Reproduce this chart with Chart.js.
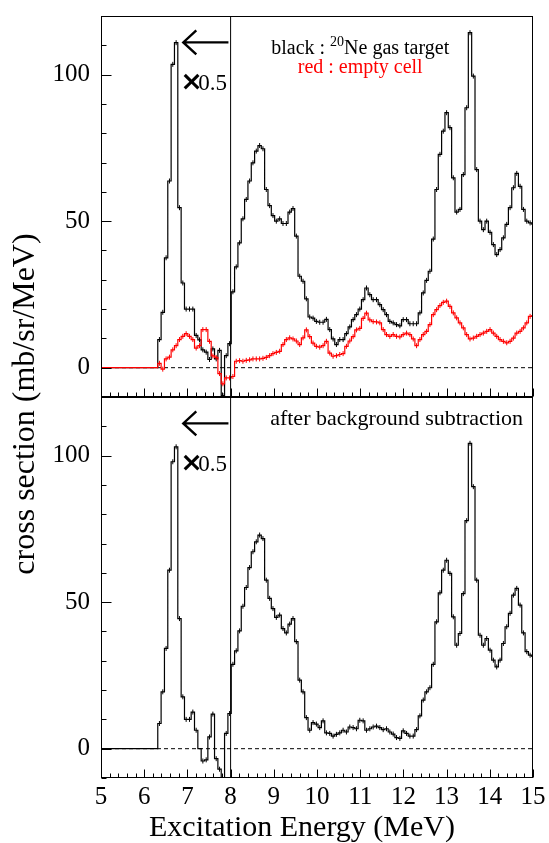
<!DOCTYPE html>
<html lang="en">
<head>
  <meta charset="UTF-8" />
  <title>20Ne cross section</title>
  <script src="https://cdn.jsdelivr.net/npm/chart.js"></script>
  <style>
    html, body { margin: 0; padding: 0; background: #fff; }
    #wrap { position: relative; width: 549px; height: 843px; }
    #wrap canvas { position: absolute; left: 0; top: 0; }
  </style>
</head>
<body>
<div id="wrap">
  <canvas id="topChart" width="549" height="843"></canvas>
  <canvas id="bottomChart" width="549" height="843"></canvas>
</div>

<script>
  // histogram bins: fixed width in MeV, first bin starts at 5 MeV
  const eStart = 5.0;
  const binWidth = 0.0773;

  // black : 20Ne gas target (below 8 MeV already scaled by 0.5)
  const neTarget = [
    0, 0, 0, 0, 0, 0, 0, 0, 0, 0, 0, 0, 0, 0, 0, 0, 0,
    9.6, 18.9, 37.5, 63.7, 103.5, 110.9, 54.6, 28.9, 20.0, 20.0, 20.0,
    11.0, 9.5, 6.1, 5.3, 2.8, 6.4, 3.0, 5.9, -9.5, 4.1, 8.2,
    25.9, 34.4, 42.6, 50.8, 57.4, 63.7, 69.9, 73.9, 75.8, 74.7,
    60.8, 55.3, 51.9, 50.0, 50.8, 49.2, 49.2, 53.1, 54.3, 44.9,
    31.2, 29.5, 23.5, 17.3, 16.9, 15.8, 15.5, 15.5, 16.5, 13.0,
    9.8, 7.9, 9.6, 9.6, 11.6, 13.9, 16.4, 18.1, 20.0, 23.2,
    27.2, 24.9, 23.2, 23.2, 21.5, 19.8, 18.1, 15.8, 15.3, 14.7,
    14.3, 16.4, 16.4, 15.0, 15.0, 15.0, 18.7, 25.5, 29.8, 32.9,
    43.9, 60.8, 72.8, 80.7, 87.0, 81.9, 64.8, 53.1, 54.0, 65.9,
    88.7, 114.3, 99.5, 67.6, 50.0, 47.1, 50.0, 46.2, 42.0, 38.6,
    40.3, 44.3, 48.9, 54.6, 61.4, 66.3, 61.9, 54.0, 50.0, 49.4,
    49.0
  ];

  // red : empty cell
  const emptyCell = [
    0, 0, 0, 0, 0, 0, 0, 0, 0, 0, 0, 0, 0, 0, 0, 0, 0,
    1.5, -0.5, 3.0, 3.6, 6.1, 7.5, 9.6, 10.7, 11.6, 10.7, 9.6,
    6.7, 7.5, 13.0, 13.0, 9.0, 4.0, 3.5, -2.0, -5.5, -3.5, -3.5,
    -3.0, 2.2, 2.4, 2.2, 2.5, 2.7, 3.0, 3.0, 3.0, 3.2,
    3.5, 4.1, 4.8, 5.2, 5.6, 7.9, 9.6, 10.2, 9.8, 9.1,
    7.9, 10.2, 12.9, 10.6, 8.4, 7.3, 7.0, 7.5, 9.0, 5.0,
    3.9, 4.1, 4.5, 4.8, 7.3, 9.1, 10.6, 12.9, 13.4, 16.8,
    18.6, 16.3, 15.7, 15.6, 15.3, 13.0, 11.3, 10.7, 11.3, 10.7,
    10.5, 11.3, 11.8, 11.3, 9.8, 7.5, 9.6, 11.3, 12.4, 14.7,
    18.1, 19.8, 21.2, 22.3, 22.7, 20.9, 18.7, 17.0, 15.3, 13.6,
    11.3, 9.8, 10.1, 10.7, 11.3, 11.8, 12.4, 13.0, 11.8, 10.7,
    9.6, 9.0, 8.5, 9.0, 10.1, 11.8, 12.4, 13.6, 15.3, 17.5,
    17.8
  ];

  // after background subtraction
  const subtracted = [
    0, 0, 0, 0, 0, 0, 0, 0, 0, 0, 0, 0, 0, 0, 0, 0, 0,
    8.6, 19.4, 34.2, 60.9, 97.9, 103.0, 44.4, 17.7, 10.0, 10.0, 12.5,
    6.3, 0.0, -4.2, -3.8, 4.0, 11.8, -3.4, -7.0, -15.0, 5.2, 12.0,
    28.8, 33.4, 40.2, 48.6, 55.0, 61.8, 67.2, 70.6, 72.9, 71.7,
    57.5, 51.3, 47.8, 44.8, 45.6, 41.0, 39.5, 42.5, 44.4, 36.5,
    23.4, 19.4, 10.6, 6.3, 8.9, 8.4, 7.2, 9.5, 5.4, 5.2,
    4.3, 4.9, 5.4, 6.3, 5.7, 7.4, 7.2, 6.8, 9.7, 9.5,
    6.3, 6.8, 7.4, 7.7, 7.2, 6.5, 6.8, 5.7, 5.0, 3.8,
    3.5, 6.1, 5.2, 4.3, 4.3, 6.5, 11.2, 16.6, 19.4, 20.8,
    28.8, 43.3, 53.2, 60.9, 64.3, 59.8, 45.0, 35.3, 39.3, 52.9,
    77.8, 104.2, 89.4, 57.5, 38.7, 35.3, 37.6, 33.6, 30.2, 27.9,
    30.2, 35.9, 41.6, 46.2, 52.4, 54.7, 49.0, 39.5, 33.1, 31.9,
    31.5
  ];

  const xTickLabels = [5, 6, 7, 8, 9, 10, 11, 12, 13, 14, 15];
  const yTickLabels = [0, 50, 100];

  const xMin = 5, xMax = 15, xMinorStep = 0.2;
  const yMin = -10, yMax = 120, yMinorStep = 10, yMajorStep = 50;
  const splitAt = 8;                 // boundary of the x0.5 region
  const arrowFrom = 6.905, arrowTo = 7.95, arrowLevel = 111;
  const factorLevel = 94.6;

  const SERIF = '"Liberation Serif", "Times New Roman", Times, serif';

  function histPoints(values) {
    const pts = values.map((v, i) => ({ x: eStart + i * binWidth, y: v }));
    pts.push({ x: eStart + values.length * binWidth, y: values[values.length - 1] });
    return pts;
  }

  // small error-bar ticks at the bin centres
  function errMarks(values) {
    return values
      .map((v, i) => ({ x: eStart + (i + 0.5) * binWidth, y: v }))
      .filter(p => p.y !== 0);
  }

  const panelDecor = {
    id: 'panelDecor',
    afterDatasetsDraw(chart, args, o) {
      const { ctx, chartArea: a } = chart;
      const xs = chart.scales.x, ys = chart.scales.y;
      ctx.save();
      ctx.strokeStyle = '#000';
      ctx.fillStyle = '#000';
      ctx.lineWidth = 1;

      const L = Math.round(a.left) + 0.5, R = Math.round(a.right) - 0.5;
      const T = Math.round(a.top) + 0.5, B = Math.round(a.bottom) - 0.5;
      ctx.strokeRect(L, T, R - L, B - T);

      // ticks pointing inwards
      ctx.beginPath();
      for (let v = yMin; v <= yMax; v += yMinorStep) {
        const py = Math.round(ys.getPixelForValue(v)) + 0.5;
        const len = v % yMajorStep === 0 ? 10 : 5;
        ctx.moveTo(L, py);
        ctx.lineTo(L + len, py);
      }
      const nx = Math.round((xMax - xMin) / xMinorStep);
      for (let k = 0; k <= nx; k++) {
        const px = Math.round(xs.getPixelForValue(xMin + k * xMinorStep)) + 0.5;
        const len = k % 5 === 0 ? 8 : 4;
        ctx.moveTo(px, B);
        ctx.lineTo(px, B - len);
      }
      ctx.stroke();

      // arrow + "x0.5"
      const ax0 = xs.getPixelForValue(arrowFrom), ax1 = xs.getPixelForValue(arrowTo);
      const ay = ys.getPixelForValue(arrowLevel);
      ctx.lineWidth = 2.4;
      ctx.beginPath();
      ctx.moveTo(ax1, ay);
      ctx.lineTo(ax0, ay);
      ctx.moveTo(ax0 + 13, ay - 12);
      ctx.lineTo(ax0, ay);
      ctx.lineTo(ax0 + 13, ay + 12);
      ctx.stroke();

      const fy = ys.getPixelForValue(factorLevel);
      ctx.textAlign = 'left';
      ctx.textBaseline = 'alphabetic';
      ctx.font = `bold 27px "DejaVu Sans", sans-serif`;
      ctx.fillText('\u00d7', ax0 - 3, fy);
      ctx.font = `23px ${SERIF}`;
      ctx.fillText('0.5', ax0 + 15, fy);

      if (o.legend) {
        const cx = xs.getPixelForValue(o.legend.center);
        const y1 = ys.getPixelForValue(o.legend.levels[0]);
        const y2 = ys.getPixelForValue(o.legend.levels[1]);
        ctx.font = `20px ${SERIF}`;
        const w1 = ctx.measureText('black : ').width;
        const w3 = ctx.measureText('Ne gas target').width;
        ctx.font = `14px ${SERIF}`;
        const w2 = ctx.measureText('20').width;
        let x0 = cx - (w1 + w2 + w3) / 2;
        ctx.font = `20px ${SERIF}`;
        ctx.fillText('black : ', x0, y1);
        ctx.font = `14px ${SERIF}`;
        ctx.fillText('20', x0 + w1, y1 - 8);
        ctx.font = `20px ${SERIF}`;
        ctx.fillText('Ne gas target', x0 + w1 + w2, y1);
        ctx.fillStyle = '#ff0000';
        ctx.textAlign = 'center';
        ctx.fillText('red : empty cell', cx, y2);
        ctx.fillStyle = '#000';
      }

      if (o.caption) {
        ctx.font = `22px ${SERIF}`;
        ctx.textAlign = 'right';
        ctx.fillText(o.caption.text, xs.getPixelForValue(o.caption.x), ys.getPixelForValue(o.caption.level));
      }

      if (o.titles) {
        ctx.font = `30px ${SERIF}`;
        ctx.textAlign = 'center';
        ctx.textBaseline = 'alphabetic';
        ctx.fillText('Excitation Energy (MeV)', 302, 836);
        ctx.font = `32px ${SERIF}`;
        ctx.translate(34, 404);
        ctx.rotate(-Math.PI / 2);
        ctx.fillText('cross section (mb/sr/MeV)', 0, 0);
      }
      ctx.restore();
    }
  };

  function buildChart(id, isBottom, blackData, redData, decor) {
    const datasets = [
      {
        data: [{ x: splitAt, y: yMin }, { x: splitAt, y: yMax }],
        borderColor: '#000', borderWidth: 1, pointRadius: 0, order: 0
      },
      {
        data: [{ x: xMin, y: 0 }, { x: xMax, y: 0 }],
        borderColor: '#000', borderWidth: 1, borderDash: [4, 3], pointRadius: 0, order: 9
      },
      {
        data: histPoints(blackData), stepped: true,
        borderColor: '#000', borderWidth: 1.2, pointRadius: 0, order: 3
      },
      {
        data: errMarks(blackData), showLine: false,
        pointStyle: 'line', pointRotation: 90, pointRadius: 2.5,
        pointBorderColor: '#000', pointBorderWidth: 1, order: 3
      }
    ];
    if (redData) {
      datasets.push({
        data: histPoints(redData), stepped: true,
        borderColor: '#ff0000', borderWidth: 1.2, pointRadius: 0, order: 1
      });
      datasets.push({
        data: errMarks(redData), showLine: false,
        pointStyle: 'line', pointRotation: 90, pointRadius: 2.5,
        pointBorderColor: '#ff0000', pointBorderWidth: 1, order: 1
      });
    }

    return new Chart(document.getElementById(id), {
      type: 'line',
      data: { datasets },
      plugins: [panelDecor],
      options: {
        responsive: false,
        animation: false,
        devicePixelRatio: 1,
        events: [],
        layout: {
          padding: isBottom
            ? { top: 397, right: 16, bottom: 0, left: 0 }
            : { top: 16, right: 16, bottom: 446, left: 0 }
        },
        plugins: {
          legend: { display: false },
          tooltip: { enabled: false },
          panelDecor: decor
        },
        scales: {
          x: {
            type: 'linear', min: xMin, max: xMax,
            grid: { display: false, drawTicks: false },
            border: { display: false },
            afterBuildTicks: s => { s.ticks = xTickLabels.map(v => ({ value: v })); },
            ticks: {
              display: isBottom, padding: 4, color: '#000',
              maxRotation: 0, autoSkip: false,
              font: { family: SERIF, size: 25 }
            },
            afterFit: s => {
              s.height = isBottom ? 65 : 0;
              s.paddingLeft = 0;
              s.paddingRight = 0;
            }
          },
          y: {
            type: 'linear', min: yMin, max: yMax,
            grid: { display: false, drawTicks: false },
            border: { display: false },
            afterBuildTicks: s => { s.ticks = yTickLabels.map(v => ({ value: v })); },
            ticks: {
              padding: 11, color: '#000',
              font: { family: SERIF, size: 25 }
            },
            afterFit: s => {
              s.width = 101;
              s.paddingTop = 0;
              s.paddingBottom = 0;
            }
          }
        }
      }
    });
  }

  buildChart('topChart', false, neTarget, emptyCell, {
    legend: { center: 11.0, levels: [107, 100.4] }
  });
  buildChart('bottomChart', true, subtracted, null, {
    caption: { text: 'after background subtraction', x: 14.77, level: 110.6 },
    titles: true
  });
</script>
</body>
</html>
